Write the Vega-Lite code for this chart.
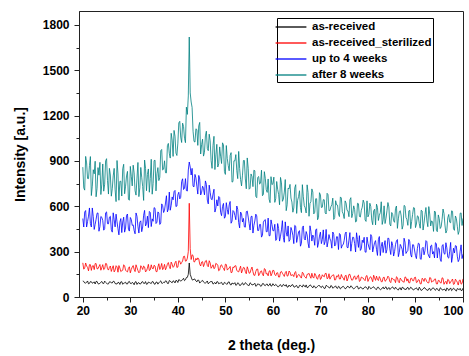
{
"$schema":"https://vega.github.io/schema/vega-lite/v6.json",
"width":384,"height":286,
"autosize":{"type":"none"},
"padding":{"left":79,"top":11,"right":6,"bottom":59},
"background":"white",
"config":{"view":{"stroke":"#222","strokeWidth":1},"font":"Liberation Sans"},
"data":{"values":[
{"x":20,"a":106,"b":226,"c":519,"d":859},
{"x":20.4,"a":93,"b":192,"c":562,"d":707},
{"x":20.8,"a":97,"b":205,"c":463,"d":887},
{"x":21.2,"a":87,"b":173,"c":535,"d":783},
{"x":21.6,"a":102,"b":214,"c":485,"d":929},
{"x":22,"a":91,"b":205,"c":589,"d":733},
{"x":22.4,"a":100,"b":181,"c":447,"d":815},
{"x":22.8,"a":103,"b":221,"c":514,"d":663},
{"x":23.2,"a":88,"b":187,"c":556,"d":856},
{"x":23.6,"a":91,"b":215,"c":466,"d":891},
{"x":24,"a":103,"b":195,"c":527,"d":747},
{"x":24.4,"a":89,"b":181,"c":442,"d":700},
{"x":24.8,"a":97,"b":222,"c":557,"d":900},
{"x":25.2,"a":85,"b":187,"c":485,"d":770},
{"x":25.6,"a":100,"b":196,"c":528,"d":851},
{"x":26,"a":93,"b":169,"c":445,"d":667},
{"x":26.4,"a":104,"b":207,"c":557,"d":801},
{"x":26.8,"a":89,"b":178,"c":464,"d":709},
{"x":27.2,"a":86,"b":199,"c":497,"d":903},
{"x":27.6,"a":96,"b":208,"c":411,"d":640},
{"x":28,"a":100,"b":168,"c":519,"d":766},
{"x":28.4,"a":84,"b":177,"c":496,"d":848},
{"x":28.8,"a":94,"b":207,"c":429,"d":683},
{"x":29.2,"a":86,"b":170,"c":540,"d":801},
{"x":29.6,"a":100,"b":190,"c":448,"d":647},
{"x":30,"a":90,"b":160,"c":526,"d":864},
{"x":30.4,"a":97,"b":198,"c":474,"d":735},
{"x":30.8,"a":81,"b":183,"c":440,"d":821},
{"x":31.2,"a":102,"b":213,"c":556,"d":674},
{"x":31.6,"a":93,"b":175,"c":468,"d":890},
{"x":32,"a":86,"b":167,"c":495,"d":722},
{"x":32.4,"a":99,"b":197,"c":432,"d":792},
{"x":32.8,"a":90,"b":205,"c":541,"d":639},
{"x":33.2,"a":102,"b":166,"c":470,"d":851},
{"x":33.6,"a":86,"b":191,"c":535,"d":811},
{"x":34,"a":96,"b":175,"c":566,"d":693},
{"x":34.4,"a":89,"b":213,"c":466,"d":911},
{"x":34.8,"a":101,"b":186,"c":501,"d":751},
{"x":35.2,"a":84,"b":205,"c":587,"d":905},
{"x":35.6,"a":99,"b":167,"c":495,"d":815},
{"x":36,"a":94,"b":220,"c":556,"d":770},
{"x":36.4,"a":107,"b":196,"c":489,"d":968},
{"x":36.8,"a":91,"b":181,"c":605,"d":840},
{"x":37.2,"a":95,"b":216,"c":574,"d":901},
{"x":37.6,"a":105,"b":195,"c":670,"d":821},
{"x":38,"a":89,"b":228,"c":582,"d":1016},
{"x":38.4,"a":105,"b":187,"c":574,"d":919},
{"x":38.8,"a":94,"b":217,"c":662,"d":1038},
{"x":39.2,"a":104,"b":204,"c":697,"d":1102},
{"x":39.6,"a":110,"b":237,"c":598,"d":952},
{"x":40,"a":96,"b":198,"c":676,"d":1018},
{"x":40.4,"a":112,"b":237,"c":649,"d":1162},
{"x":40.8,"a":111,"b":228,"c":764,"d":1022},
{"x":41.2,"a":124,"b":268,"c":711,"d":1128},
{"x":41.6,"a":114,"b":237,"c":783,"d":1021},
{"x":42,"a":130,"b":257,"c":701,"d":1208},
{"x":42.2,"a":150,"b":300,"c":840,"d":1330},
{"x":42.4,"a":225,"b":620,"c":893,"d":1720},
{"x":42.6,"a":150,"b":320,"c":860,"d":1350},
{"x":42.8,"a":132,"b":248,"c":807,"d":1290},
{"x":43.2,"a":112,"b":275,"c":733,"d":1097},
{"x":43.6,"a":118,"b":235,"c":811,"d":1025},
{"x":44,"a":100,"b":245,"c":733,"d":1107},
{"x":44.4,"a":111,"b":252,"c":804,"d":1132},
{"x":44.8,"a":100,"b":205,"c":675,"d":946},
{"x":45.2,"a":110,"b":234,"c":733,"d":1044},
{"x":45.6,"a":94,"b":220,"c":676,"d":957},
{"x":46,"a":99,"b":242,"c":745,"d":1097},
{"x":46.4,"a":87,"b":200,"c":616,"d":968},
{"x":46.8,"a":101,"b":225,"c":693,"d":1033},
{"x":47.2,"a":103,"b":200,"c":643,"d":851},
{"x":47.6,"a":91,"b":187,"c":713,"d":1063},
{"x":48,"a":86,"b":223,"c":588,"d":940},
{"x":48.4,"a":101,"b":211,"c":602,"d":860},
{"x":48.8,"a":91,"b":179,"c":658,"d":993},
{"x":49.2,"a":97,"b":213,"c":538,"d":883},
{"x":49.6,"a":83,"b":190,"c":619,"d":1006},
{"x":50,"a":92,"b":217,"c":532,"d":811},
{"x":50.4,"a":85,"b":178,"c":579,"d":915},
{"x":50.8,"a":100,"b":192,"c":609,"d":835},
{"x":51.2,"a":79,"b":161,"c":488,"d":955},
{"x":51.6,"a":88,"b":199,"c":572,"d":764},
{"x":52,"a":95,"b":206,"c":540,"d":901},
{"x":52.4,"a":81,"b":175,"c":602,"d":836},
{"x":52.8,"a":90,"b":166,"c":492,"d":963},
{"x":53.2,"a":77,"b":204,"c":562,"d":777},
{"x":53.6,"a":94,"b":178,"c":496,"d":806},
{"x":54,"a":83,"b":193,"c":464,"d":903},
{"x":54.4,"a":90,"b":154,"c":564,"d":716},
{"x":54.8,"a":77,"b":181,"c":529,"d":852},
{"x":55.2,"a":94,"b":160,"c":443,"d":720},
{"x":55.6,"a":79,"b":198,"c":535,"d":797},
{"x":56,"a":84,"b":144,"c":474,"d":839},
{"x":56.4,"a":71,"b":169,"c":548,"d":666},
{"x":56.8,"a":87,"b":185,"c":440,"d":791},
{"x":57.2,"a":83,"b":151,"c":480,"d":747},
{"x":57.6,"a":73,"b":173,"c":396,"d":839},
{"x":58,"a":89,"b":140,"c":495,"d":679},
{"x":58.4,"a":75,"b":183,"c":512,"d":785},
{"x":58.8,"a":86,"b":156,"c":432,"d":692},
{"x":59.2,"a":78,"b":171,"c":405,"d":647},
{"x":59.6,"a":72,"b":140,"c":510,"d":796},
{"x":60,"a":88,"b":177,"c":439,"d":749},
{"x":60.4,"a":75,"b":148,"c":481,"d":626},
{"x":60.8,"a":78,"b":159,"c":382,"d":764},
{"x":61.2,"a":68,"b":132,"c":453,"d":679},
{"x":61.6,"a":82,"b":165,"c":402,"d":791},
{"x":62,"a":71,"b":157,"c":505,"d":633},
{"x":62.4,"a":79,"b":136,"c":362,"d":694},
{"x":62.8,"a":82,"b":170,"c":429,"d":571},
{"x":63.2,"a":66,"b":141,"c":470,"d":720},
{"x":63.6,"a":70,"b":164,"c":379,"d":745},
{"x":64,"a":81,"b":146,"c":439,"d":628},
{"x":64.4,"a":67,"b":135,"c":353,"d":589},
{"x":64.8,"a":74,"b":168,"c":468,"d":743},
{"x":65.2,"a":62,"b":140,"c":396,"d":640},
{"x":65.6,"a":77,"b":146,"c":439,"d":703},
{"x":66,"a":70,"b":125,"c":356,"d":558},
{"x":66.4,"a":81,"b":157,"c":470,"d":663},
{"x":66.8,"a":66,"b":132,"c":377,"d":590},
{"x":67.2,"a":62,"b":150,"c":411,"d":742},
{"x":67.6,"a":73,"b":157,"c":325,"d":534},
{"x":68,"a":77,"b":124,"c":434,"d":632},
{"x":68.4,"a":60,"b":132,"c":410,"d":694},
{"x":68.8,"a":70,"b":156,"c":342,"d":560},
{"x":69.2,"a":63,"b":125,"c":451,"d":650},
{"x":69.6,"a":76,"b":141,"c":358,"d":526},
{"x":70,"a":66,"b":116,"c":429,"d":675},
{"x":70.4,"a":73,"b":147,"c":380,"d":594},
{"x":70.8,"a":56,"b":133,"c":346,"d":643},
{"x":71.2,"a":77,"b":157,"c":447,"d":549},
{"x":71.6,"a":67,"b":125,"c":365,"d":677},
{"x":72,"a":59,"b":118,"c":385,"d":572},
{"x":72.4,"a":72,"b":141,"c":323,"d":610},
{"x":72.8,"a":63,"b":147,"c":415,"d":513},
{"x":73.2,"a":74,"b":114,"c":346,"d":637},
{"x":73.6,"a":57,"b":134,"c":398,"d":608},
{"x":74,"a":67,"b":119,"c":420,"d":532},
{"x":74.4,"a":59,"b":149,"c":323,"d":655},
{"x":74.8,"a":71,"b":125,"c":347,"d":550},
{"x":75.2,"a":54,"b":140,"c":418,"d":636},
{"x":75.6,"a":68,"b":106,"c":329,"d":573},
{"x":76,"a":62,"b":149,"c":376,"d":531},
{"x":76.4,"a":74,"b":127,"c":303,"d":657},
{"x":76.8,"a":58,"b":113,"c":396,"d":553},
{"x":77.2,"a":60,"b":140,"c":353,"d":579},
{"x":77.6,"a":70,"b":119,"c":425,"d":501},
{"x":78,"a":53,"b":145,"c":328,"d":617},
{"x":78.4,"a":66,"b":108,"c":308,"d":529},
{"x":78.8,"a":54,"b":128,"c":376,"d":594},
{"x":79.2,"a":62,"b":115,"c":395,"d":622},
{"x":79.6,"a":66,"b":138,"c":296,"d":500},
{"x":80,"a":50,"b":103,"c":355,"d":530},
{"x":80.4,"a":63,"b":130,"c":313,"d":620},
{"x":80.8,"a":59,"b":119,"c":399,"d":508},
{"x":81.2,"a":68,"b":144,"c":331,"d":569},
{"x":81.6,"a":53,"b":110,"c":373,"d":477},
{"x":82,"a":64,"b":116,"c":275,"d":593},
{"x":82.4,"a":54,"b":135,"c":400,"d":541},
{"x":82.8,"a":51,"b":101,"c":336,"d":630},
{"x":83.2,"a":66,"b":128,"c":294,"d":511},
{"x":83.6,"a":62,"b":104,"c":373,"d":486},
{"x":84,"a":50,"b":120,"c":314,"d":570},
{"x":84.4,"a":63,"b":130,"c":387,"d":596},
{"x":84.8,"a":55,"b":95,"c":281,"d":470},
{"x":85.2,"a":67,"b":122,"c":343,"d":547},
{"x":85.6,"a":52,"b":114,"c":300,"d":494},
{"x":86,"a":57,"b":134,"c":372,"d":602},
{"x":86.4,"a":46,"b":101,"c":267,"d":517},
{"x":86.8,"a":61,"b":125,"c":348,"d":571},
{"x":87.2,"a":64,"b":105,"c":315,"d":449},
{"x":87.6,"a":52,"b":97,"c":389,"d":606},
{"x":88,"a":48,"b":129,"c":288,"d":526},
{"x":88.4,"a":64,"b":120,"c":308,"d":474},
{"x":88.8,"a":54,"b":94,"c":366,"d":573},
{"x":89.2,"a":60,"b":124,"c":264,"d":500},
{"x":89.6,"a":46,"b":107,"c":345,"d":592},
{"x":90,"a":56,"b":131,"c":274,"d":459},
{"x":90.4,"a":49,"b":99,"c":321,"d":537},
{"x":90.8,"a":65,"b":112,"c":352,"d":485},
{"x":91.2,"a":43,"b":87,"c":249,"d":574},
{"x":91.6,"a":53,"b":118,"c":329,"d":443},
{"x":92,"a":60,"b":124,"c":306,"d":545},
{"x":92.4,"a":47,"b":100,"c":366,"d":504},
{"x":92.8,"a":55,"b":93,"c":271,"d":598},
{"x":93.2,"a":43,"b":126,"c":338,"d":470},
{"x":93.6,"a":60,"b":104,"c":284,"d":496},
{"x":94,"a":50,"b":118,"c":259,"d":569},
{"x":94.4,"a":56,"b":87,"c":353,"d":441},
{"x":94.8,"a":44,"b":110,"c":326,"d":543},
{"x":95.2,"a":61,"b":95,"c":251,"d":453},
{"x":95.6,"a":47,"b":127,"c":338,"d":513},
{"x":96,"a":52,"b":84,"c":288,"d":552},
{"x":96.4,"a":39,"b":104,"c":359,"d":423},
{"x":96.8,"a":55,"b":117,"c":263,"d":524},
{"x":97.2,"a":52,"b":89,"c":303,"d":495},
{"x":97.6,"a":42,"b":109,"c":229,"d":570},
{"x":98,"a":59,"b":83,"c":323,"d":451},
{"x":98.4,"a":44,"b":118,"c":340,"d":536},
{"x":98.8,"a":56,"b":97,"c":270,"d":468},
{"x":99.2,"a":48,"b":109,"c":248,"d":437},
{"x":99.6,"a":43,"b":85,"c":345,"d":556},
{"x":100,"a":59,"b":120,"c":283,"d":520},
{"x":20.2,"a":103,"b":184,"c":463,"d":722},
{"x":20.6,"a":92,"b":225,"c":572,"d":930},
{"x":21.0,"a":106,"b":196,"c":499,"d":784},
{"x":21.4,"a":90,"b":214,"c":589,"d":869},
{"x":21.8,"a":101,"b":176,"c":463,"d":671},
{"x":22.2,"a":95,"b":208,"c":531,"d":842},
{"x":22.6,"a":86,"b":221,"c":481,"d":898},
{"x":23.0,"a":103,"b":186,"c":554,"d":719},
{"x":23.4,"a":86,"b":202,"c":435,"d":806},
{"x":23.8,"a":97,"b":177,"c":533,"d":678},
{"x":24.2,"a":90,"b":214,"c":506,"d":880},
{"x":24.6,"a":105,"b":187,"c":452,"d":746},
{"x":25.0,"a":92,"b":220,"c":563,"d":915},
{"x":25.4,"a":87,"b":178,"c":484,"d":681},
{"x":25.8,"a":101,"b":205,"c":534,"d":807},
{"x":26.2,"a":93,"b":190,"c":429,"d":716},
{"x":26.6,"a":103,"b":166,"c":511,"d":851},
{"x":27.0,"a":87,"b":207,"c":548,"d":631},
{"x":27.4,"a":97,"b":164,"c":452,"d":814},
{"x":27.8,"a":83,"b":192,"c":495,"d":765},
{"x":28.2,"a":101,"b":174,"c":426,"d":668},
{"x":28.6,"a":91,"b":213,"c":528,"d":878},
{"x":29.0,"a":98,"b":177,"c":456,"d":733},
{"x":29.4,"a":86,"b":166,"c":549,"d":831},
{"x":29.8,"a":103,"b":200,"c":436,"d":640},
{"x":30.2,"a":88,"b":182,"c":513,"d":799},
{"x":30.6,"a":92,"b":208,"c":477,"d":872},
{"x":31.0,"a":99,"b":168,"c":418,"d":702},
{"x":31.4,"a":83,"b":194,"c":534,"d":787},
{"x":31.8,"a":95,"b":160,"c":423,"d":664},
{"x":32.2,"a":87,"b":207,"c":504,"d":857},
{"x":32.6,"a":102,"b":182,"c":463,"d":730},
{"x":33.0,"a":90,"b":199,"c":573,"d":906},
{"x":33.4,"a":84,"b":173,"c":485,"d":703},
{"x":33.8,"a":99,"b":216,"c":459,"d":847},
{"x":34.2,"a":92,"b":180,"c":559,"d":784},
{"x":34.6,"a":102,"b":190,"c":517,"d":680},
{"x":35.0,"a":87,"b":210,"c":591,"d":902},
{"x":35.4,"a":98,"b":169,"c":486,"d":702},
{"x":35.8,"a":85,"b":199,"c":563,"d":856},
{"x":36.2,"a":101,"b":182,"c":480,"d":792},
{"x":36.6,"a":91,"b":222,"c":616,"d":976},
{"x":37.0,"a":97,"b":192,"c":559,"d":846},
{"x":37.4,"a":107,"b":180,"c":622,"d":822},
{"x":37.8,"a":90,"b":217,"c":563,"d":1001},
{"x":38.2,"a":109,"b":202,"c":694,"d":951},
{"x":38.6,"a":98,"b":231,"c":606,"d":1083},
{"x":39.0,"a":107,"b":196,"c":643,"d":930},
{"x":39.4,"a":93,"b":226,"c":705,"d":1064},
{"x":39.8,"a":108,"b":195,"c":602,"d":936},
{"x":40.2,"a":115,"b":240,"c":693,"d":1152},
{"x":40.6,"a":104,"b":217,"c":659,"d":1058},
{"x":41.0,"a":114,"b":238,"c":782,"d":1150},
{"x":41.4,"a":108,"b":270,"c":719,"d":1050},
{"x":41.8,"a":129,"b":239,"c":704,"d":1256},
{"x":43.0,"a":114,"b":279,"c":851,"d":1254},
{"x":43.4,"a":119,"b":231,"c":729,"d":1029},
{"x":43.8,"a":106,"b":256,"c":788,"d":1113},
{"x":44.2,"a":112,"b":259,"c":681,"d":1003},
{"x":44.6,"a":92,"b":218,"c":781,"d":1155},
{"x":45.0,"a":105,"b":231,"c":693,"d":1008},
{"x":45.4,"a":99,"b":201,"c":719,"d":932},
{"x":45.8,"a":91,"b":238,"c":768,"d":1066},
{"x":46.2,"a":106,"b":208,"c":641,"d":982},
{"x":46.6,"a":94,"b":240,"c":740,"d":1077},
{"x":47.0,"a":101,"b":190,"c":649,"d":902},
{"x":47.4,"a":85,"b":213,"c":681,"d":1003},
{"x":47.8,"a":96,"b":193,"c":562,"d":843},
{"x":48.2,"a":101,"b":218,"c":643,"d":1010},
{"x":48.6,"a":87,"b":173,"c":665,"d":881},
{"x":49.0,"a":93,"b":208,"c":560,"d":932},
{"x":49.4,"a":83,"b":196,"c":599,"d":1020},
{"x":49.8,"a":97,"b":175,"c":521,"d":830},
{"x":50.2,"a":86,"b":215,"c":624,"d":1002},
{"x":50.6,"a":99,"b":185,"c":547,"d":870},
{"x":51.0,"a":83,"b":202,"c":632,"d":936},
{"x":51.4,"a":93,"b":163,"c":502,"d":760},
{"x":51.8,"a":87,"b":194,"c":565,"d":901},
{"x":52.2,"a":77,"b":207,"c":511,"d":942},
{"x":52.6,"a":94,"b":170,"c":580,"d":783},
{"x":53.0,"a":76,"b":186,"c":457,"d":851},
{"x":53.4,"a":88,"b":159,"c":551,"d":735},
{"x":53.8,"a":80,"b":196,"c":520,"d":903},
{"x":54.2,"a":95,"b":168,"c":462,"d":781},
{"x":54.6,"a":81,"b":200,"c":569,"d":920},
{"x":55.0,"a":76,"b":157,"c":486,"d":713},
{"x":55.4,"a":89,"b":183,"c":532,"d":814},
{"x":55.8,"a":82,"b":168,"c":423,"d":730},
{"x":56.2,"a":91,"b":143,"c":503,"d":835},
{"x":56.6,"a":75,"b":184,"c":537,"d":657},
{"x":57.0,"a":84,"b":141,"c":440,"d":797},
{"x":57.4,"a":71,"b":169,"c":480,"d":753},
{"x":57.8,"a":88,"b":151,"c":409,"d":670},
{"x":58.2,"a":78,"b":188,"c":507,"d":829},
{"x":58.6,"a":84,"b":152,"c":432,"d":710},
{"x":59.0,"a":73,"b":140,"c":522,"d":781},
{"x":59.4,"a":89,"b":174,"c":406,"d":624},
{"x":59.8,"a":74,"b":154,"c":479,"d":743},
{"x":60.2,"a":78,"b":175,"c":438,"d":793},
{"x":60.6,"a":84,"b":141,"c":374,"d":652},
{"x":61.0,"a":68,"b":161,"c":486,"d":713},
{"x":61.4,"a":78,"b":132,"c":370,"d":610},
{"x":61.8,"a":70,"b":169,"c":444,"d":755},
{"x":62.2,"a":84,"b":147,"c":395,"d":647},
{"x":62.6,"a":72,"b":161,"c":497,"d":777},
{"x":63.0,"a":65,"b":138,"c":402,"d":610},
{"x":63.4,"a":79,"b":172,"c":368,"d":715},
{"x":63.8,"a":71,"b":141,"c":460,"d":655},
{"x":64.2,"a":81,"b":147,"c":409,"d":561},
{"x":64.6,"a":65,"b":162,"c":474,"d":722},
{"x":65.0,"a":76,"b":127,"c":361,"d":553},
{"x":65.4,"a":62,"b":149,"c":430,"d":664},
{"x":65.8,"a":77,"b":132,"c":336,"d":592},
{"x":66.2,"a":66,"b":164,"c":459,"d":743},
{"x":66.6,"a":72,"b":137,"c":387,"d":604},
{"x":67.0,"a":80,"b":124,"c":433,"d":556},
{"x":67.4,"a":63,"b":151,"c":356,"d":691},
{"x":67.8,"a":80,"b":138,"c":471,"d":619},
{"x":68.2,"a":67,"b":157,"c":370,"d":715},
{"x":68.6,"a":74,"b":125,"c":393,"d":550},
{"x":69.0,"a":59,"b":146,"c":443,"d":650},
{"x":69.4,"a":71,"b":117,"c":328,"d":511},
{"x":69.8,"a":76,"b":150,"c":403,"d":690},
{"x":70.2,"a":62,"b":126,"c":353,"d":592},
{"x":70.6,"a":68,"b":138,"c":444,"d":644},
{"x":71.0,"a":58,"b":155,"c":367,"d":557},
{"x":71.4,"a":74,"b":121,"c":331,"d":686},
{"x":71.8,"a":63,"b":154,"c":413,"d":571},
{"x":72.2,"a":76,"b":131,"c":371,"d":597},
{"x":72.6,"a":58,"b":144,"c":430,"d":654},
{"x":73.0,"a":67,"b":112,"c":337,"d":525},
{"x":73.4,"a":60,"b":139,"c":399,"d":610},
{"x":73.8,"a":71,"b":148,"c":314,"d":549},
{"x":74.2,"a":53,"b":119,"c":413,"d":662},
{"x":74.6,"a":68,"b":132,"c":343,"d":564},
{"x":75.0,"a":64,"b":111,"c":375,"d":519},
{"x":75.4,"a":57,"b":144,"c":430,"d":621},
{"x":75.8,"a":72,"b":123,"c":325,"d":569},
{"x":76.2,"a":61,"b":150,"c":426,"d":643},
{"x":76.6,"a":69,"b":111,"c":354,"d":525},
{"x":77.0,"a":53,"b":132,"c":394,"d":603},
{"x":77.4,"a":65,"b":117,"c":298,"d":496},
{"x":77.8,"a":71,"b":139,"c":380,"d":620},
{"x":78.2,"a":56,"b":103,"c":406,"d":533},
{"x":78.6,"a":63,"b":132,"c":319,"d":574},
{"x":79.0,"a":53,"b":125,"c":360,"d":641},
{"x":79.4,"a":67,"b":108,"c":298,"d":510},
{"x":79.8,"a":56,"b":142,"c":396,"d":636},
{"x":80.2,"a":70,"b":118,"c":330,"d":547},
{"x":80.6,"a":54,"b":134,"c":413,"d":598},
{"x":81.0,"a":64,"b":101,"c":298,"d":478},
{"x":81.4,"a":58,"b":127,"c":360,"d":581},
{"x":81.8,"a":49,"b":138,"c":315,"d":614},
{"x":82.2,"a":65,"b":109,"c":380,"d":506},
{"x":82.6,"a":48,"b":122,"c":274,"d":558},
{"x":83.0,"a":60,"b":101,"c":362,"d":480},
{"x":83.4,"a":53,"b":132,"c":339,"d":603},
{"x":83.8,"a":68,"b":109,"c":290,"d":521},
{"x":84.2,"a":54,"b":138,"c":390,"d":625},
{"x":84.6,"a":49,"b":103,"c":319,"d":482},
{"x":85.0,"a":63,"b":126,"c":366,"d":559},
{"x":85.4,"a":56,"b":113,"c":271,"d":504},
{"x":85.8,"a":65,"b":95,"c":346,"d":586},
{"x":86.2,"a":49,"b":128,"c":380,"d":454},
{"x":86.6,"a":59,"b":94,"c":295,"d":565},
{"x":87.0,"a":46,"b":116,"c":335,"d":536},
{"x":87.4,"a":63,"b":102,"c":272,"d":475},
{"x":87.8,"a":53,"b":133,"c":363,"d":601},
{"x":88.2,"a":60,"b":105,"c":299,"d":512},
{"x":88.6,"a":49,"b":94,"c":381,"d":570},
{"x":89.0,"a":65,"b":123,"c":280,"d":452},
{"x":89.4,"a":50,"b":108,"c":346,"d":547},
{"x":89.8,"a":54,"b":129,"c":311,"d":588},
{"x":90.2,"a":61,"b":95,"c":254,"d":483},
{"x":90.6,"a":45,"b":115,"c":356,"d":532},
{"x":91.0,"a":55,"b":87,"c":253,"d":455},
{"x":91.4,"a":47,"b":124,"c":322,"d":569},
{"x":91.8,"a":62,"b":103,"c":279,"d":488},
{"x":92.2,"a":50,"b":116,"c":373,"d":592},
{"x":92.6,"a":43,"b":94,"c":288,"d":465},
{"x":93.0,"a":57,"b":129,"c":259,"d":549},
{"x":93.4,"a":50,"b":98,"c":344,"d":504},
{"x":93.8,"a":60,"b":105,"c":300,"d":434},
{"x":94.2,"a":44,"b":120,"c":359,"d":562},
{"x":94.6,"a":55,"b":86,"c":258,"d":432},
{"x":95.0,"a":41,"b":109,"c":320,"d":519},
{"x":95.4,"a":57,"b":92,"c":235,"d":464},
{"x":95.8,"a":46,"b":124,"c":347,"d":582},
{"x":96.2,"a":51,"b":97,"c":283,"d":476},
{"x":96.6,"a":60,"b":85,"c":325,"d":440},
{"x":97.0,"a":43,"b":112,"c":257,"d":546},
{"x":97.4,"a":60,"b":99,"c":361,"d":491},
{"x":97.8,"a":48,"b":119,"c":270,"d":567},
{"x":98.2,"a":54,"b":87,"c":291,"d":441},
{"x":98.6,"a":39,"b":109,"c":337,"d":520},
{"x":99.0,"a":52,"b":79,"c":234,"d":414},
{"x":99.4,"a":57,"b":113,"c":303,"d":554},
{"x":99.8,"a":43,"b":90,"c":254,"d":473}
]},
"transform":[{"fold":["a","b","c","d"],"as":["s","v"]}],
"mark":{"type":"line","strokeWidth":0.8,"clip":true},
"encoding":{
"x":{"field":"x","type":"quantitative","sort":"ascending","scale":{"domain":[19.2,100],"nice":false,"zero":false},
"axis":{"title":"2 theta (deg.)","grid":false,"values":[20,25,30,35,40,45,50,55,60,65,70,75,80,85,90,95,100],
"labelExpr":"datum.value % 10 === 0 ? datum.label : ''","labelOverlap":false,
"tickSize":{"condition":{"test":"datum.value % 10 === 0","value":5},"value":3},
"tickColor":"#222","domainColor":"#222","labelColor":"#000","labelFont":"Liberation Sans","labelFontWeight":"bold","labelFontSize":12,"labelPadding":3,
"titleFont":"Liberation Sans","titleFontWeight":"bold","titleFontSize":14,"titleColor":"#000","titlePadding":22}},
"y":{"field":"v","type":"quantitative","scale":{"domain":[0,1892],"nice":false},
"axis":{"title":"Intensity [a.u.]","grid":false,"values":[0,150,300,450,600,750,900,1050,1200,1350,1500,1650,1800],"format":"d",
"labelExpr":"datum.value % 300 === 0 ? datum.label : ''","labelOverlap":false,
"tickSize":{"condition":{"test":"datum.value % 300 === 0","value":5},"value":3},
"tickColor":"#222","domainColor":"#222","labelColor":"#000","labelFont":"Liberation Sans","labelFontWeight":"bold","labelFontSize":12,"labelPadding":5,
"titleFont":"Liberation Sans","titleFontWeight":"bold","titleFontSize":14,"titleColor":"#000","titlePadding":15}},
"color":{"field":"s","type":"nominal","scale":{"domain":["a","b","c","d"],"range":["#000000","#ff0000","#0000ff","#008080"]},
"legend":{"orient":"none","legendX":198,"legendY":7,"title":null,"symbolType":"M-2.2,0H2.2","symbolSize":196,"symbolStrokeWidth":1.3,
"strokeColor":"#000","fillColor":"#fff","padding":1,"rowPadding":2,"symbolOffset":5,"labelOffset":13,
"labelFont":"Liberation Sans","labelFontWeight":"bold","labelFontSize":11.5,"labelColor":"#000",
"labelExpr":"datum.label == 'a' ? 'as-received' : datum.label == 'b' ? 'as-received_sterilized' : datum.label == 'c' ? 'up to 4 weeks' : 'after 8 weeks'",
"encode":{"symbols":{"update":{"stroke":{"scale":"color","field":"value"},"fill":{"value":"transparent"}}}}}}
}
}
